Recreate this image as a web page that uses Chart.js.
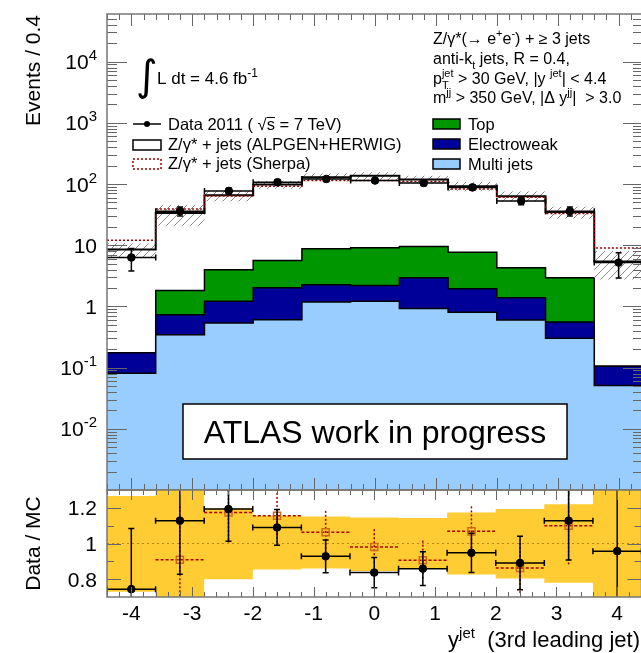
<!DOCTYPE html>
<html>
<head>
<meta charset="utf-8">
<script src="https://cdn.jsdelivr.net/npm/chart.js@4.4.1/dist/chart.umd.min.js"></script>
<style>
  html, body { margin: 0; padding: 0; background: #fff; overflow: hidden; }
  #wrap { position: relative; width: 641px; height: 653px; overflow: hidden; }
  canvas { position: absolute; left: 0; top: 0; }
</style>
</head>
<body>
<div id="wrap">
  <canvas id="main" width="648" height="653"></canvas>
  <canvas id="ratio" width="648" height="653"></canvas>
</div>
<script>
// binning in rapidity of the 3rd leading jet
const binEdges = [-4.4, -3.6, -2.8, -2.0, -1.2, -0.4, 0.4, 1.2, 2.0, 2.8, 3.6, 4.4];
const binCenters = [-4.0, -3.2, -2.4, -1.6, -0.8, 0.0, 0.8, 1.6, 2.4, 3.2, 4.0];
const binHalfWidth = 0.4;

// events per bin
const dataEvents = [6.3, 36, 77, 107, 121, 114, 104, 88, 53, 36, 5.2];
const dataErr = [2.5, 6, 9, 10, 11, 11, 10, 9, 7, 6, 2.3];
const alpgenEvents = [8.5, 33.7, 65.6, 98, 129, 137, 119, 92, 63, 35, 5.4];
const sherpaEvents = [12.1, 39, 64, 92, 114, 114, 110, 83, 61, 33, 9.0];

// backgrounds
const multiJets = [0.081, 0.344, 0.535, 0.605, 1.18, 1.21, 0.92, 0.80, 0.60, 0.303, 0.051];
const electroweak = [0.094, 0.386, 0.675, 1.415, 1.08, 0.99, 2.02, 1.15, 0.79, 0.251, 0.054];
const topQuark = [0, 1.09, 2.77, 3.62, 6.51, 6.9, 6.62, 5.75, 2.91, 2.39, 0];

// relative MC uncertainty (band)
const mcUncUp = [1.267, 1.35, 1.196, 1.156, 1.152, 1.146, 1.143, 1.174, 1.193, 1.22, 1.49];
const mcUncDown = [0.73, 0.62, 0.80, 0.854, 0.86, 0.846, 0.86, 0.826, 0.804, 0.78, 0.51];

// ratio panel
const ratioData = [0.744, 1.128, 1.193, 1.09, 0.928, 0.837, 0.859, 0.948, 0.891, 1.128, 0.957];
const ratioDataErr = [0.34, 0.3, 0.18, 0.1, 0.092, 0.085, 0.095, 0.11, 0.15, 0.22, 0.5];
const ratioSherpa = [0.52, 0.909, 1.174, 1.156, 1.063, 0.98, 0.906, 1.068, 0.863, 1.1, 0.55];
const ratioSherpaErr = [0.15, 0.3, 0.17, 0.15, 0.12, 0.1, 0.11, 0.14, 0.14, 0.22, 0.12];
const ratioRef = 1;

const xTickLabels = [-4, -3, -2, -1, 0, 1, 2, 3, 4];
const logTickExp = [-2, -1, 0, 1, 2, 3, 4];
const ratioTickLabels = [0.8, 1, 1.2];

const FONT = '"Liberation Sans", Arial, sans-serif';

const stepSeries = vals => vals.map((v, i) => ({ x: binEdges[i], y: v }))
  .concat([{ x: binEdges[vals.length], y: vals[vals.length - 1] }]);
const points = vals => vals.map((v, i) => ({ x: binCenters[i], y: v }));

const ewStack = multiJets.map((v, i) => v + electroweak[i]);
const topStack = ewStack.map((v, i) => v + topQuark[i]);

function hatchPattern(color) {
  const c = document.createElement('canvas');
  c.width = 8; c.height = 8;
  const g = c.getContext('2d');
  g.strokeStyle = color; g.lineWidth = 1;
  g.beginPath();
  g.moveTo(0, 8); g.lineTo(8, 0);
  g.moveTo(-1, 1); g.lineTo(1, -1);
  g.moveTo(7, 9); g.lineTo(9, 7);
  g.stroke();
  return g.createPattern(c, 'repeat');
}

// text with super/subscripts: parts = [[text, kind]], kind '', 'sup', 'sub', 'sub0' (no advance)
function richText(ctx, parts, x, y, size, align) {
  const small = Math.round(size * 0.7);
  const w = parts.reduce((s, [t, k]) => {
    ctx.font = (k ? small : size) + 'px ' + FONT;
    return k === 'sub0' ? s : s + ctx.measureText(t).width;
  }, 0);
  let cx = align === 'right' ? x - w : align === 'center' ? x - w / 2 : x;
  ctx.textAlign = 'left';
  ctx.textBaseline = 'alphabetic';
  for (const [t, k] of parts) {
    ctx.font = (k ? small : size) + 'px ' + FONT;
    const dy = k === 'sup' ? -size * 0.42 : (k === 'sub' || k === 'sub0') ? size * 0.3 : 0;
    ctx.fillText(t, cx, y + dy);
    if (k !== 'sub0') cx += ctx.measureText(t).width;
  }
  return cx;
}

const errorBars = {
  id: 'errorBars',
  beforeDatasetDraw(chart, args) {
    const ds = chart.data.datasets[args.index];
    const eb = ds.errorBars;
    if (!eb) return;
    const { ctx, chartArea: a, scales: { x, y } } = chart;
    ctx.save();
    ctx.beginPath();
    ctx.rect(a.left, a.top, a.right - a.left, a.bottom - a.top);
    ctx.clip();
    ds.data.forEach((p, i) => {
      const px = x.getPixelForValue(p.x);
      const py = y.getPixelForValue(p.y);
      const yHi = y.getPixelForValue(p.y + eb.err[i]);
      const yLo = y.getPixelForValue(Math.max(p.y - eb.err[i], 1e-6));
      const xL = x.getPixelForValue(p.x - binHalfWidth);
      const xR = x.getPixelForValue(p.x + binHalfWidth);
      ctx.lineWidth = eb.width;
      // horizontal bar over the bin
      ctx.strokeStyle = eb.hColor;
      ctx.setLineDash(eb.hDash);
      ctx.beginPath(); ctx.moveTo(xL, py); ctx.lineTo(xR, py); ctx.stroke();
      // vertical bar
      ctx.strokeStyle = eb.color;
      ctx.setLineDash(eb.dash);
      ctx.beginPath(); ctx.moveTo(px, yHi); ctx.lineTo(px, yLo); ctx.stroke();
      if (eb.cap) {
        ctx.setLineDash([]);
        ctx.strokeStyle = eb.color;
        ctx.beginPath();
        ctx.moveTo(xL, py - eb.cap); ctx.lineTo(xL, py + eb.cap);
        ctx.moveTo(xR, py - eb.cap); ctx.lineTo(xR, py + eb.cap);
        ctx.moveTo(px - eb.cap, yHi); ctx.lineTo(px + eb.cap, yHi);
        ctx.moveTo(px - eb.cap, yLo); ctx.lineTo(px + eb.cap, yLo);
        ctx.stroke();
      }
    });
    ctx.restore();
  }
};

// frame with inward ticks on all four sides
function drawFrame(chart, yTicks, len) {
  const { ctx, chartArea: a, scales: { x, y } } = chart;
  ctx.save();
  ctx.strokeStyle = '#666';
  ctx.lineWidth = 1;
  ctx.beginPath();
  for (let k = -22; k <= 22; k++) {
    const px = Math.round(x.getPixelForValue(k * 0.2)) + 0.5;
    const l = k % 5 === 0 ? len.xMajor : len.xMinor;
    ctx.moveTo(px, a.top); ctx.lineTo(px, a.top + l);
    ctx.moveTo(px, a.bottom); ctx.lineTo(px, a.bottom - l);
  }
  for (const t of yTicks) {
    const py = Math.round(y.getPixelForValue(t.v)) + 0.5;
    if (py < a.top + 1 || py > a.bottom - 1) continue;
    const l = t.major ? len.yMajor : len.yMinor;
    ctx.moveTo(a.left, py); ctx.lineTo(a.left + l, py);
    ctx.moveTo(a.right, py); ctx.lineTo(a.right - l, py);
  }
  ctx.stroke();
  ctx.strokeStyle = '#777';
  ctx.lineWidth = 1.5;
  ctx.strokeRect(a.left, a.top, a.right - a.left, a.bottom - a.top);
  ctx.restore();
}

const logTicks = [];
for (let e = -3; e <= 4; e++) {
  for (let m = 1; m <= 9; m++) logTicks.push({ v: m * Math.pow(10, e), major: m === 1 });
}
const ratioMinorTicks = [];
for (let k = 7; k <= 13; k++) ratioMinorTicks.push({ v: k / 10, major: k % 2 === 0 });

const mainDecor = {
  id: 'mainDecor',
  afterDraw(chart) {
    const { ctx, scales: { y } } = chart;
    drawFrame(chart, logTicks, { xMajor: 12, xMinor: 6, yMajor: 20, yMinor: 10 });
    ctx.save();
    ctx.fillStyle = '#000';
    // y tick labels
    for (const e of logTickExp) {
      const py = y.getPixelForValue(Math.pow(10, e)) + 7.5;
      if (e === 0) richText(ctx, [['1', '']], 97, py, 21, 'right');
      else if (e === 1) richText(ctx, [['10', '']], 97, py, 21, 'right');
      else richText(ctx, [['10', ''], [String(e), 'sup']], 97, py, 21, 'right');
    }
    // y title
    ctx.save();
    ctx.translate(40, 15);
    ctx.rotate(-Math.PI / 2);
    ctx.font = '21px ' + FONT;
    ctx.textAlign = 'right';
    ctx.fillText('Events / 0.4', 0, 0);
    ctx.restore();

    // luminosity
    ctx.font = '42px "DejaVu Sans"';
    ctx.textAlign = 'left';
    ctx.fillText('\u222B', 136, 90);
    richText(ctx, [['L dt = 4.6 fb', ''], ['-1', 'sup']], 157, 84, 17, 'left');

    // selection text
    const sx = 433;
    richText(ctx, [['Z/\u03B3*(\u2192 e', ''], ['+', 'sup'], ['e', ''], ['-', 'sup'], [') + \u2265 3 jets', '']], sx, 44, 16, 'left');
    richText(ctx, [['anti-k', ''], ['t', 'sub'], [' jets, R = 0.4,', '']], sx, 64, 16, 'left');
    richText(ctx, [['p', ''], ['T', 'sub0'], ['jet', 'sup'], [' > 30 GeV, |y ', ''], ['jet', 'sup'], ['| < 4.4', '']], sx, 84, 16, 'left');
    richText(ctx, [['m', ''], ['jj', 'sup'], [' > 350 GeV, |\u0394 y', ''], ['jj', 'sup'], ['|  > 3.0', '']], sx, 103, 16, 'left');

    // legend, left column
    ctx.strokeStyle = '#000';
    ctx.lineWidth = 1.5;
    ctx.beginPath(); ctx.moveTo(133, 124); ctx.lineTo(161, 124); ctx.stroke();
    ctx.beginPath(); ctx.arc(147, 124, 3, 0, Math.PI * 2); ctx.fill();
    const sEnd = richText(ctx, [['Data 2011 ( \u221As', '']], 168, 130, 16.5, 'left');
    ctx.lineWidth = 1;
    ctx.beginPath(); ctx.moveTo(sEnd - 8, 117.5); ctx.lineTo(sEnd, 117.5); ctx.stroke();
    richText(ctx, [[' = 7 TeV)', '']], sEnd, 130, 16.5, 'left');

    ctx.lineWidth = 1.5;
    ctx.fillStyle = '#fff';
    ctx.fillRect(133, 140, 28, 10);
    ctx.strokeRect(133, 140, 28, 10);
    ctx.fillStyle = '#000';
    richText(ctx, [['Z/\u03B3* + jets (ALPGEN+HERWIG)', '']], 168, 150, 16.5, 'left');

    ctx.strokeStyle = '#a00000';
    ctx.setLineDash([2, 2]);
    ctx.strokeRect(133, 159, 28, 10);
    ctx.setLineDash([]);
    richText(ctx, [['Z/\u03B3* + jets (Sherpa)', '']], 168, 169, 16.5, 'left');

    // legend, right column
    const boxes = [['#009600', 'Top', 119], ['#000099', 'Electroweak', 139], ['#99ccff', 'Multi jets', 159]];
    for (const [c, label, by] of boxes) {
      ctx.fillStyle = c;
      ctx.fillRect(433, by, 27, 10);
      ctx.strokeStyle = '#000';
      ctx.lineWidth = 1.5;
      ctx.strokeRect(433, by, 27, 10);
      ctx.fillStyle = '#000';
      richText(ctx, [[label, '']], 468, by + 11, 16.5, 'left');
    }

    // status box
    ctx.fillStyle = '#fff';
    ctx.fillRect(183, 404, 384, 55);
    ctx.strokeStyle = '#000';
    ctx.lineWidth = 1.5;
    ctx.strokeRect(183, 404, 384, 55);
    ctx.fillStyle = '#000';
    ctx.font = '32px ' + FONT;
    ctx.textAlign = 'center';
    ctx.fillText('ATLAS work in progress', 375, 443);
    ctx.restore();
  }
};

const ratioDecor = {
  id: 'ratioDecor',
  afterDraw(chart) {
    const { ctx, scales: { x, y } } = chart;
    drawFrame(chart, ratioMinorTicks, { xMajor: 10, xMinor: 5, yMajor: 14, yMinor: 7 });
    ctx.save();
    ctx.fillStyle = '#000';
    for (const v of ratioTickLabels) {
      richText(ctx, [[String(v), '']], 97, y.getPixelForValue(v) + 7.5, 21, 'right');
    }
    for (const v of xTickLabels) {
      richText(ctx, [[String(v), '']], x.getPixelForValue(v), 620, 21, 'center');
    }
    ctx.save();
    ctx.translate(40, y.getPixelForValue(1));
    ctx.rotate(-Math.PI / 2);
    ctx.font = '21px ' + FONT;
    ctx.textAlign = 'center';
    ctx.fillText('Data / MC', 0, 0);
    ctx.restore();
    richText(ctx, [['y', ''], ['jet', 'sup'], ['  (3rd leading jet)', '']], 640, 647, 22, 'right');
    ctx.restore();
  }
};

const stepLine = (vals, extra) => Object.assign({
  data: stepSeries(vals), stepped: true, pointRadius: 0, borderWidth: 0, fill: false
}, extra);

const hatch = hatchPattern('#8a8a8a');

new Chart(document.getElementById('main'), {
  type: 'line',
  data: {
    datasets: [
      stepLine(topStack, { backgroundColor: '#009600', borderColor: '#000', borderWidth: 1.5, fill: 'start', order: 20 }),
      stepLine(ewStack, { backgroundColor: '#000099', borderColor: '#000', borderWidth: 1.5, fill: 'start', order: 19 }),
      stepLine(multiJets, { backgroundColor: '#99ccff', borderColor: '#000', borderWidth: 1.5, fill: 'start', order: 18 }),
      stepLine(alpgenEvents.map((v, i) => v * mcUncDown[i]), { order: 17 }),
      stepLine(alpgenEvents.map((v, i) => v * mcUncUp[i]), { backgroundColor: hatch, fill: '-1', order: 16 }),
      stepLine(alpgenEvents, { borderColor: '#000', borderWidth: 2, order: 15 }),
      stepLine(sherpaEvents, { borderColor: '#a00000', borderWidth: 1.5, borderDash: [2, 2], order: 14 }),
      {
        data: points(dataEvents), showLine: false, pointRadius: 3.8, pointBackgroundColor: '#000',
        pointBorderColor: '#000', order: 1,
        errorBars: { err: dataErr, color: '#000', hColor: '#000', dash: [], hDash: [], width: 1.5, cap: 3 }
      }
    ]
  },
  options: {
    responsive: false,
    animation: false,
    devicePixelRatio: 1,
    events: [],
    layout: { padding: { left: 107, right: 3, top: 14, bottom: 163 } },
    scales: {
      x: { type: 'linear', min: -4.4, max: 4.4, display: false },
      y: { type: 'logarithmic', min: 1e-3, max: 6e4, display: false }
    },
    plugins: { legend: { display: false }, tooltip: { enabled: false } }
  },
  plugins: [errorBars, mainDecor]
});

new Chart(document.getElementById('ratio'), {
  type: 'line',
  data: {
    datasets: [
      stepLine(mcUncDown, { order: 20 }),
      stepLine(mcUncUp, { backgroundColor: '#ffcc33', fill: '-1', order: 19 }),
      {
        data: [{ x: binEdges[0], y: ratioRef }, { x: binEdges[binEdges.length - 1], y: ratioRef }],
        pointRadius: 0, borderColor: '#b8860b', borderWidth: 1, borderDash: [2, 3], order: 18
      },
      {
        data: points(ratioSherpa), showLine: false, pointStyle: 'rect', pointRadius: 5,
        pointBackgroundColor: 'rgba(0,0,0,0)', pointBorderColor: '#cc6a1a', pointBorderWidth: 1.5, order: 2,
        errorBars: { err: ratioSherpaErr, color: '#a00000', hColor: '#b00000', dash: [2, 2], hDash: [3, 2], width: 1.5, cap: 0 }
      },
      {
        data: points(ratioData), showLine: false, pointRadius: 3.8, pointBackgroundColor: '#000',
        pointBorderColor: '#000', order: 1,
        errorBars: { err: ratioDataErr, color: '#000', hColor: '#000', dash: [], hDash: [], width: 1.5, cap: 3 }
      }
    ]
  },
  options: {
    responsive: false,
    animation: false,
    devicePixelRatio: 1,
    events: [],
    layout: { padding: { left: 107, right: 3, top: 490, bottom: 56 } },
    scales: {
      x: { type: 'linear', min: -4.4, max: 4.4, display: false },
      y: { type: 'linear', min: 0.7, max: 1.3, display: false }
    },
    plugins: { legend: { display: false }, tooltip: { enabled: false } }
  },
  plugins: [errorBars, ratioDecor]
});
</script>
</body>
</html>
